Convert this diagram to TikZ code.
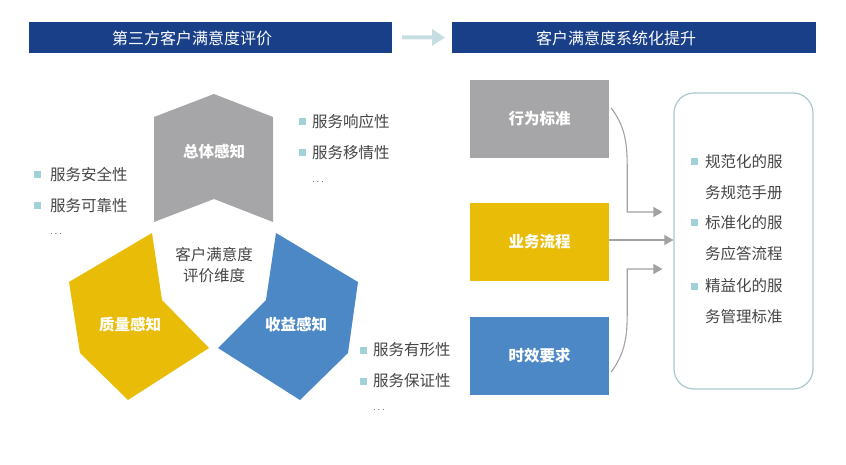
\documentclass[tikz,border=0pt]{standalone}
\usepackage{fontspec}
\setmainfont{Noto Sans CJK SC}
\usetikzlibrary{arrows.meta,calc}
\definecolor{navy}{HTML}{183F88}
\definecolor{hdrarrow}{HTML}{C6DEE2}
\definecolor{pgray}{HTML}{A6A6A8}
\definecolor{pyellow}{HTML}{E8BC07}
\definecolor{pblue}{HTML}{4C87C6}
\definecolor{txt}{HTML}{454545}
\definecolor{bul}{HTML}{A0D2D8}
\definecolor{conn}{HTML}{A2A2A2}
\definecolor{frame}{HTML}{A9C8CE}
\tikzset{
  hdr/.style={fill=navy, inner sep=0pt},
  hdrtext/.style={text=white, font=\fontsize{16}{18}\selectfont, inner sep=0pt},
  lbl/.style={text=white, font=\fontsize{15.5}{18}\selectfont\bfseries, inner sep=0pt},
  item/.style={text=txt, font=\fontsize{15.5}{18}\selectfont, inner sep=0pt, anchor=west},
  dots/.style={text=txt, font=\fontsize{10}{12}\selectfont, inner sep=0pt, anchor=west},
  bullet/.style={fill=bul, minimum size=7pt, inner sep=0pt},
  rbox/.style={inner sep=0pt},
  link/.style={draw=conn, line width=1.1pt, -{Triangle[length=9pt,width=10pt]}},
}
\begin{document}
\begin{tikzpicture}[x=1pt,y=-1pt]
\useasboundingbox (0,0) rectangle (846,465);
% headers
\node[hdr, minimum width=363pt, minimum height=31pt] (h1) at (210.5,37.5) {};
\node[hdrtext] (h1t) at (192,38) {第三方客户满意度评价};
\node[hdr, minimum width=364pt, minimum height=31pt] (h2) at (634,37.5) {};
\node[hdrtext] (h2t) at (616,38) {客户满意度系统化提升};
\fill[hdrarrow] (402,35.5) -- (432,35.5) -- (432,29) -- (445,37.5) -- (432,46) -- (432,39.5) -- (402,39.5) -- cycle;
% chevrons
\fill[pgray] (214,94) -- (273,117) -- (273,222) -- (214,199) -- (154,222) -- (154,117) -- cycle;
\fill[pyellow] (152,233) -- (69,282) -- (80,353) -- (128,400) -- (209,348) -- (162,300) -- cycle;
\fill[pblue] (276,233) -- (358,282) -- (348,353) -- (300,400) -- (218,348) -- (266,300) -- cycle;
\node[lbl] (g) at (214,152) {总体感知};
\node[lbl] (y) at (130,325) {质量感知};
\node[lbl] (b) at (296,325) {收益感知};
\node[text=txt, font=\fontsize{15.5}{21}\selectfont, align=center, inner sep=0pt] (c) at (214,265) {客户满意度\\评价维度};
% left list
\node[bullet] (lb1) at (37,175) {};
\node[item] (l1) at (50,175) {服务安全性};
\node[bullet] (lb2) at (37,206) {};
\node[item] (l2) at (50,206) {服务可靠性};
\node[dots] (l3) at (50,234) {$\cdots$};
% top right list
\node[bullet] (rb1) at (302,122) {};
\node[item] (r1) at (312,122) {服务响应性};
\node[bullet] (rb2) at (302,153) {};
\node[item] (r2) at (312,153) {服务移情性};
\node[dots] (r3) at (312,182) {$\cdots$};
% bottom right list
\node[bullet] (bb1) at (363,350) {};
\node[item] (b1) at (373,350) {服务有形性};
\node[bullet] (bb2) at (363,381) {};
\node[item] (b2) at (373,381) {服务保证性};
\node[dots] (b3) at (373,410) {$\cdots$};
% right boxes
\node[rbox, fill=pgray, minimum width=139pt, minimum height=78pt, lbl] (k1) at (539.5,119) {行为标准};
\node[rbox, fill=pyellow, minimum width=139pt, minimum height=78pt, lbl] (k2) at (539.5,242) {业务流程};
\node[rbox, fill=pblue, minimum width=139pt, minimum height=78pt, lbl] (k3) at (539.5,355.5) {时效要求};
\node[draw=frame, line width=1.2pt, rounded corners=20pt, minimum width=139pt, minimum height=296pt, inner sep=0pt] (fr) at (743.5,241) {};
% items in frame
\node[bullet] (fb1) at (694,162) {};
\node[item] (f1) at (705,162) {规范化的服};
\node[item] (f2) at (705,193) {务规范手册};
\node[bullet] (fb2) at (694,223) {};
\node[item] (f3) at (705,223) {标准化的服};
\node[item] (f4) at (705,254) {务应答流程};
\node[bullet] (fb3) at (694,286) {};
\node[item] (f5) at (705,286) {精益化的服};
\node[item] (f6) at (705,317) {务管理标准};
% connectors
\coordinate (t1) at ($(fr.west)+(-11,-29)$);
\coordinate (t3) at ($(fr.west)+(-11,28)$);
\draw[link] ($(k1.east)+(2,-11)$) .. controls ($(k1.east)+(14,5)$) and ($(k1.east)+(18,20)$) .. ($(k1.east)+(18,46)$) |- (t1);
\draw[link] ($(k2.east)+(0,-2)$) -- ($(fr.west)+(0,-1)$);
\draw[link] ($(k3.east)+(2,16.5)$) .. controls ($(k3.east)+(14,0)$) and ($(k3.east)+(18,-15)$) .. ($(k3.east)+(18,-40)$) |- (t3);
\end{tikzpicture}
\end{document}
